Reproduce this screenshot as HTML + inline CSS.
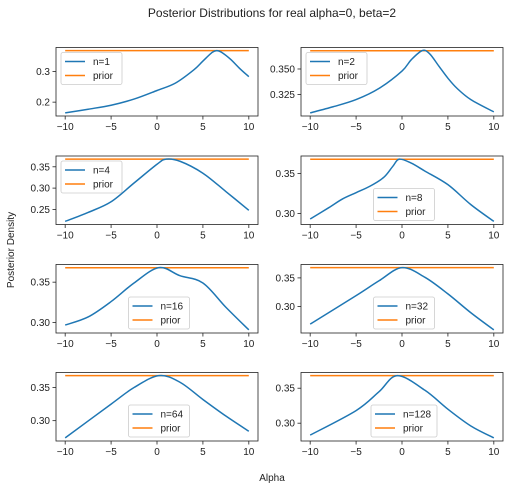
<!DOCTYPE html>
<html><head><meta charset="utf-8"><style>
body{margin:0;background:#fff;}
svg{display:block;font-family:"Liberation Sans","DejaVu Sans",sans-serif;}
</style></head><body>
<svg id="fig" width="513" height="490" viewBox="0 0 513 490">
<text x="272" y="17" text-anchor="middle" font-size="12" fill="#222">Posterior Distributions for real alpha=0, beta=2</text>
<text x="14" y="250" text-anchor="middle" font-size="10" fill="#222" transform="rotate(-90 14 250)">Posterior Density</text>
<text x="272" y="481" text-anchor="middle" font-size="10" fill="#222">Alpha</text>
</svg>
<script>
const labels = ["n=1","n=2","n=4","n=8","n=16","n=32","n=64","n=128"];
const priorValue = 0.3679;
const xs1 = [-10,-7.5,-5,-2.5,0,2,4,5,6,6.5,7,8,9,10];
const ys1 = [0.165,0.177,0.19,0.21,0.238,0.262,0.305,0.334,0.362,0.368,0.363,0.340,0.31,0.283];
const xs2 = [-10,-7.5,-5,-2.5,0,1,2.2,3,4,5,6,7.5,10];
const ys2 = [0.307,0.313,0.320,0.331,0.348,0.359,0.368,0.365,0.353,0.341,0.331,0.320,0.308];
const xs4 = [-10,-7.5,-5,-2.5,0,1,2.5,5,7.5,10];
const ys4 = [0.222,0.243,0.268,0.312,0.356,0.368,0.363,0.335,0.292,0.248];
const xs8 = [-10,-8,-6.5,-5,-3.5,-2,-1,-0.3,1,2.5,5,7.5,10];
const ys8 = [0.293,0.307,0.318,0.326,0.334,0.345,0.359,0.368,0.363,0.353,0.336,0.311,0.290];
const xs16 = [-10,-7.5,-5,-2.5,0.2,2.5,5,7.5,10];
const ys16 = [0.297,0.307,0.326,0.349,0.368,0.358,0.349,0.319,0.291];
const xs32 = [-10,-5,-2.5,0,2.5,5,7.5,10];
const ys32 = [0.269,0.319,0.345,0.368,0.351,0.322,0.289,0.259];
const xs64 = [-10,-5,-2.5,0.2,2.5,5,7.5,10];
const ys64 = [0.274,0.325,0.350,0.368,0.358,0.332,0.307,0.284];
const xs128 = [-10,-5,-2.5,-0.5,2.5,5,7.5,10];
const ys128 = [0.283,0.318,0.345,0.368,0.347,0.320,0.296,0.279];
const xTicks = [-10,-5,0,5,10];
const yTicks = [[0.2,0.3],[0.325,0.350],[0.25,0.30,0.35],[0.30,0.35],[0.30,0.35],[0.30,0.35],[0.30,0.35],[0.30,0.35]];
const yDecimals = [1,3,2,2,2,2,2,2];
const legendLoc = ["ul","ul","ul","lc","lc","lc","lc","lc"];

const allX = [xs1,xs2,xs4,xs8,xs16,xs32,xs64,xs128];
const allY = [ys1,ys2,ys4,ys8,ys16,ys32,ys64,ys128];
const NS="http://www.w3.org/2000/svg";
const svg=document.getElementById('fig');
function mk(tag,attrs,parent){const e=document.createElementNS(NS,tag);for(const k in attrs)e.setAttribute(k,attrs[k]);(parent||svg).appendChild(e);return e;}
function spline(pts){let d=`M${pts[0][0]},${pts[0][1]}`;for(let i=0;i<pts.length-1;i++){const p0=pts[Math.max(0,i-1)],p1=pts[i],p2=pts[i+1],p3=pts[Math.min(pts.length-1,i+2)];const t=1/6;d+=` C${p1[0]+(p2[0]-p0[0])*t},${p1[1]+(p2[1]-p0[1])*t} ${p2[0]-(p3[0]-p1[0])*t},${p2[1]-(p3[1]-p1[1])*t} ${p2[0]},${p2[1]}`;}return d;}
const colL=[56,301], W=202, tops=[47.5,156,264.5,372.5], H=68.5;
for(let i=0;i<8;i++){
  const L=colL[i%2], T=tops[Math.floor(i/2)];
  const g=mk('g',{});
  
  
  const xmin=-11, xmax=11;
  const X=v=>L+(v-xmin)/(xmax-xmin)*W;
  const lo=Math.min(...allY[i],priorValue), hi=Math.max(...allY[i],priorValue), m=(hi-lo)*0.05;
  const Y=v=>T+H-(v-(lo-m))/((hi+m)-(lo-m))*H;
  xTicks.forEach(t=>{
    const l=mk('line',{x1:X(t),x2:X(t),y1:T+H,y2:T+H+3.5,stroke:'#222','stroke-width':0.8},g);
    
    
    const tx=mk('text',{x:X(t),y:T+H+14,'text-anchor':'middle','font-size':10,fill:'#222'},g);
    tx.textContent=(t<0?'\u2212'+(-t):t);
    
    
  });
  yTicks[i].forEach(t=>{
    const l=mk('line',{x1:L-3.5,x2:L,y1:Y(t),y2:Y(t),stroke:'#222','stroke-width':0.8},g);
    
    
    const tx=mk('text',{x:L-6,y:Y(t)+3.5,'text-anchor':'end','font-size':10,fill:'#222'},g);
    tx.textContent=t.toFixed(yDecimals[i]);
    
    
  });
  const pr=mk('line',{x1:X(-10),x2:X(10),y1:Y(priorValue),y2:Y(priorValue),stroke:'#ff7f0e','stroke-width':1.5},g);
  
  
  const pts=allX[i].map((x,k)=>[X(x),Y(allY[i][k])]);
  const p=mk('path',{d:spline(pts),fill:'none',stroke:'#1f77b4','stroke-width':1.5},g);
  
  
  const fr=mk('rect',{x:L,y:T,width:W,height:H,fill:'none',stroke:'#222','stroke-width':0.8},g);
  
  
  const lw=labels[i].length>4?66:61, lh=32;
  const lx=legendLoc[i]==='ul'?L+5:L+W/2-lw/2+2;
  const ly=legendLoc[i]==='ul'?T+5:T+H-lh-4;
  const lg=mk('g',{},g);
  
  
  mk('rect',{x:lx,y:ly,width:lw,height:lh,rx:2,fill:'#fff','fill-opacity':0.8,stroke:'#ccc','stroke-width':0.8},lg);
  [[labels[i],'#1f77b4'],['prior','#ff7f0e']].forEach((e,k)=>{
    const ey=ly+9+k*14;
    const en=mk('g',{},lg);
    
    
    mk('line',{x1:lx+4,x2:lx+24,y1:ey,y2:ey,stroke:e[1],'stroke-width':1.5},en);
    const t=mk('text',{x:lx+32,y:ey+3.5,'font-size':10,fill:'#222'},en);
    t.textContent=e[0];
  });
}
</script>
</body></html>
